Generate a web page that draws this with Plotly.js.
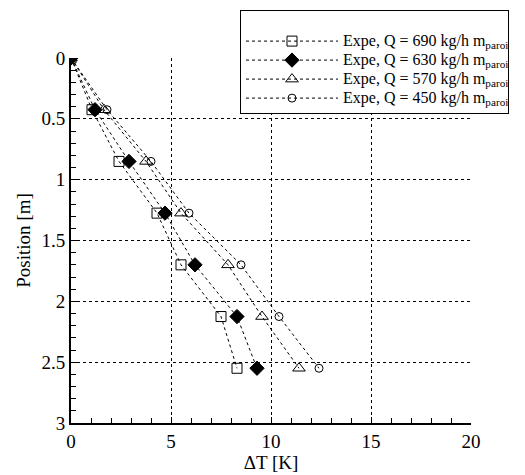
<!DOCTYPE html>
<html>
<head>
<meta charset="utf-8">
<script src="https://cdn.plot.ly/plotly-3.0.1.min.js"></script>
<style>
html,body{margin:0;padding:0;background:#fff;}
#chart .legendtext{font-size:16px !important;}
</style>
</head>
<body>
<div id="chart" style="width:525px;height:475px;"></div>
<script>
// Data
const position = [0, 0.425, 0.85, 1.275, 1.70, 2.125, 2.55];
const dT690 = [0, 1.05, 2.4, 4.3, 5.5, 7.5, 8.3];
const dT630 = [0, 1.2, 2.9, 4.7, 6.2, 8.3, 9.3];
const dT570 = [0, 1.65, 3.75, 5.5, 7.85, 9.55, 11.4];
const dT450 = [0, 1.8, 4.0, 5.9, 8.5, 10.4, 12.4];
const names = [
  'Expe, Q = 690 kg/h m<sub>paroi</sub>',
  'Expe, Q = 630 kg/h m<sub>paroi</sub>',
  'Expe, Q = 570 kg/h m<sub>paroi</sub>',
  'Expe, Q = 450 kg/h m<sub>paroi</sub>'
];
const seriesX = [dT690, dT630, dT570, dT450];
const symbols = ['square-open', 'diamond', 'triangle-up-open', 'circle-open'];
const sizes = [10, 11, 11, 8];

const FAM = 'Liberation Serif';

const traces = seriesX.map((xs, i) => ({
  x: xs, y: position, name: names[i] + '&nbsp;&nbsp;&nbsp;&nbsp;&nbsp;&nbsp;&nbsp;&nbsp;&nbsp;&nbsp;&nbsp;&nbsp;', type: 'scatter', mode: 'lines+markers',
  line: {color: 'black', width: 1, dash: '3px,3px'},
  marker: {symbol: symbols[i], size: sizes[i], color: 'black', line: {color: 'black', width: 1}}
}));

const layout = {
  width: 525, height: 475,
  margin: {l: 71, r: 54, t: 58, b: 52, autoexpand: false},
  paper_bgcolor: 'white', plot_bgcolor: 'white',
  font: {family: FAM, size: 18, color: 'black'},
  showlegend: true,
  legend: {
    x: 0.4225, y: 1.1315, xanchor: 'left', yanchor: 'top',
    bordercolor: 'black', borderwidth: 1, bgcolor: 'white',
    font: {family: FAM, size: 12, color: 'black'},
    title: {text: '&nbsp;', font: {family: FAM, size: 12, color: 'black'}},
    itemwidth: 92, tracegroupgap: 0
  },
  xaxis: {
    range: [0, 20], dtick: 5, tick0: 0,
    showline: true, linecolor: 'black', linewidth: 2,
    showgrid: true, gridcolor: 'black', gridwidth: 1, griddash: 'dot',
    ticks: 'inside', ticklen: 6, tickcolor: 'black',
    minor: {dtick: 1, ticks: 'inside', ticklen: 5, tickcolor: 'black', showgrid: false},
    zeroline: false,
    tickfont: {family: FAM, size: 19, color: 'black'},
    title: {text: 'ΔT [K]', font: {family: FAM, size: 19, color: 'black'}, standoff: 4}
  },
  yaxis: {
    range: [3, 0], dtick: 0.5, tick0: 0,
    showline: true, linecolor: 'black', linewidth: 2,
    showgrid: true, gridcolor: 'black', gridwidth: 1, griddash: 'dot',
    ticks: 'inside', ticklen: 6, tickcolor: 'black',
    minor: {dtick: 0.1, ticks: 'inside', ticklen: 5, tickcolor: 'black', showgrid: false},
    zeroline: false,
    tickfont: {family: FAM, size: 19, color: 'black'},
    title: {text: 'Position [m]', font: {family: FAM, size: 19, color: 'black'}, standoff: 6}
  }
};

Plotly.newPlot('chart', traces, layout, {displayModeBar: false, staticPlot: true});
</script>
</body>
</html>
